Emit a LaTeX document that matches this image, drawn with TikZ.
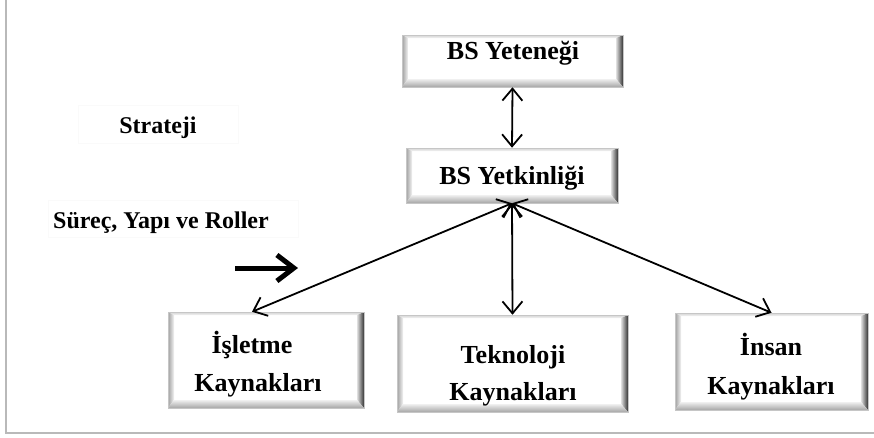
\documentclass[tikz,border=0pt]{standalone}
\usepackage{fontspec}
\setmainfont{Liberation Serif}
\usetikzlibrary{arrows.meta,calc}
\tikzset{
  bevelbox/.style={draw=gray!45, line width=0.5pt, fill=white, inner sep=0pt,
    path picture={
      \coordinate (pNW) at (path picture bounding box.north west);
      \coordinate (pNE) at (path picture bounding box.north east);
      \coordinate (pSW) at (path picture bounding box.south west);
      \coordinate (pSE) at (path picture bounding box.south east);
      \shade[top color=gray!35, bottom color=gray!8]
        (pNW) -- (pNE) -- ([xshift=-7pt,yshift=-3pt]pNE) -- ([xshift=6pt,yshift=-3pt]pNW) -- cycle;
      \shade[left color=gray!75, right color=gray!8]
        (pNW) -- ([xshift=6pt,yshift=-3pt]pNW) -- ([xshift=6pt,yshift=8pt]pSW) -- (pSW) -- cycle;
      \shade[left color=gray!25, right color=black!80]
        (pNE) -- (pSE) -- ([xshift=-7pt,yshift=8pt]pSE) -- ([xshift=-7pt,yshift=-3pt]pNE) -- cycle;
      \shade[top color=gray!12, bottom color=gray!70]
        (pSW) -- ([xshift=6pt,yshift=8pt]pSW) -- ([xshift=-7pt,yshift=8pt]pSE) -- (pSE) -- cycle;
    }},
  boxtext/.style={font=\fontsize{26}{38}\selectfont\bfseries, align=center, inner sep=0pt, anchor=base},
  sidetext/.style={font=\fontsize{24}{28}\selectfont\bfseries, inner sep=0pt, anchor=base},
  faintbox/.style={draw=black!2, line width=0.3pt},
  dblarr/.style={line width=1.8pt, {Straight Barb[length=12pt,width=20pt]}-{Straight Barb[length=12pt,width=20pt]}},
  bigarr/.style={line width=5pt, -{Straight Barb[length=17pt,width=26pt]}},
  frameline/.style={draw=gray!55, line width=2pt}
}
\begin{document}
\begin{tikzpicture}[x=1pt,y=-1pt]
\useasboundingbox (0,0) rectangle (874,437);
% frame
\draw[frameline] (5.5,0) -- (5.5,433) -- (874,433);

% faint text frames
\draw[faintbox] (78,105) rectangle (238,143);
\draw[faintbox] (48,200) rectangle (298,237);

% boxes
\node[bevelbox, minimum width=221pt, minimum height=52pt] (yet) at (512.5,61) {};
\node[bevelbox, minimum width=212pt, minimum height=55pt] (yetk) at (512,175.5) {};
\node[bevelbox, minimum width=196pt, minimum height=96pt] (isl) at (266,360) {};
\node[bevelbox, minimum width=231pt, minimum height=97pt] (tek) at (512.5,363.5) {};
\node[bevelbox, minimum width=193pt, minimum height=97pt] (ins) at (771.5,361.5) {};

% box texts
\node[boxtext] (yetT) at (513,59) {BS Yeteneği};
\node[boxtext] (yetkT) at (512,184) {BS Yetkinliği};
\node[boxtext] (islT1) at (252,353) {İşletme};
\node[boxtext] (islT2) at (258,391) {Kaynakları};
\node[boxtext] (tekT1) at (513,363) {Teknoloji};
\node[boxtext] (tekT2) at (513,400) {Kaynakları};
\node[boxtext] (insT1) at (771,355) {İnsan};
\node[boxtext] (insT2) at (771,394) {Kaynakları};

% side labels
\node[sidetext] (str) at (158,133) {Strateji};
\node[sidetext] (sur) at (161,228) {Süreç, Yapı ve Roller};

% thick arrow
\coordinate (ba1) at (235,268);
\coordinate (ba2) at (298,268);
\draw[bigarr] (ba1) -- (ba2);

% connectors
\draw[dblarr] (yet.south) -- (yetk.north);
\draw[dblarr] (yetk.south) -- ([xshift=-14pt]isl.north);
\draw[dblarr] (yetk.south) -- (tek.north);
\draw[dblarr] (yetk.south) -- (ins.north);
\end{tikzpicture}
\end{document}
